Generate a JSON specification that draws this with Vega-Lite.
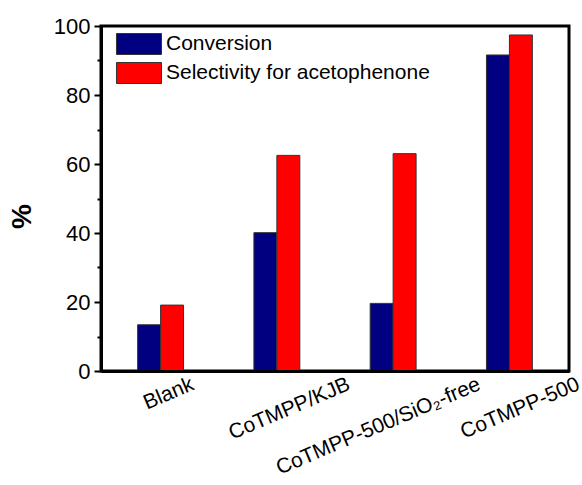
{
  "$schema": "https://vega.github.io/schema/vega-lite/v6.json",
  "width": 468,
  "height": 345,
  "autosize": {"type": "none"},
  "padding": {"left": 101, "top": 26, "right": 13, "bottom": 114},
  "background": "white",
  "config": {
    "view": {"stroke": "black", "strokeWidth": 3},
    "font": "Liberation Sans",
    "axis": {"labelFont": "Liberation Sans", "titleFont": "Liberation Sans", "labelColor": "black", "titleColor": "black"},
    "legend": {"labelFont": "Liberation Sans"}
  },
  "data": {
    "values": [
      {"sample": "Blank", "series": "Conversion", "value": 13.4},
      {"sample": "Blank", "series": "Selectivity for acetophenone", "value": 19.1},
      {"sample": "CoTMPP/KJB", "series": "Conversion", "value": 40.1},
      {"sample": "CoTMPP/KJB", "series": "Selectivity for acetophenone", "value": 62.5},
      {"sample": "CoTMPP-500/SiO₂-free", "series": "Conversion", "value": 19.6},
      {"sample": "CoTMPP-500/SiO₂-free", "series": "Selectivity for acetophenone", "value": 63.0},
      {"sample": "CoTMPP-500", "series": "Conversion", "value": 91.6},
      {"sample": "CoTMPP-500", "series": "Selectivity for acetophenone", "value": 97.4}
    ]
  },
  "layer": [
    {
      "mark": {"type": "bar", "stroke": "#333333", "strokeWidth": 1},
      "encoding": {
        "x": {
          "field": "sample",
          "type": "nominal",
          "sort": ["Blank", "CoTMPP/KJB", "CoTMPP-500/SiO₂-free", "CoTMPP-500"],
          "scale": {"paddingInner": 0.605, "paddingOuter": 0.315},
          "axis": {
            "title": null,
            "ticks": false,
            "domain": true,
            "domainColor": "black",
            "domainWidth": 3,
            "labelFontSize": 21,
            "labelAngle": -23,
            "labelAlign": "right",
            "labelBaseline": "top",
            "labelPadding": 2,
            "labelOverlap": false,
            "labelBound": false,
            "labelFlush": false,
            "labelLimit": 0,
            "labelOffset": {
              "condition": [
                {"test": "datum.value == 'Blank'", "value": 28},
                {"test": "datum.value == 'CoTMPP/KJB'", "value": 68},
                {"test": "datum.value == 'CoTMPP-500/SiO₂-free'", "value": 82}
              ],
              "value": 65
            },
            "zindex": 1
          }
        },
        "xOffset": {
          "field": "series",
          "type": "nominal",
          "sort": ["Conversion", "Selectivity for acetophenone"],
          "scale": {"paddingInner": 0, "paddingOuter": 0}
        },
        "y": {
          "field": "value",
          "type": "quantitative",
          "scale": {"domain": [0, 100], "nice": false},
          "axis": {
            "title": "%",
            "titleFontSize": 28,
            "titleFontWeight": "bold",
            "titleX": -79,
            "titleY": 190,
            "titleAlign": "center",
            "titleBaseline": "middle",
            "values": [0, 20, 40, 60, 80, 100],
            "grid": false,
            "domainColor": "black",
            "domainWidth": 3,
            "tickColor": "black",
            "tickWidth": 2,
            "tickSize": 7,
            "labelFontSize": 22,
            "labelPadding": 4,
            "zindex": 1
          }
        },
        "color": {
          "field": "series",
          "type": "nominal",
          "sort": ["Conversion", "Selectivity for acetophenone"],
          "scale": {"range": ["#000080", "#FF0000"]},
          "legend": {
            "title": null,
            "orient": "none",
            "legendX": 27,
            "legendY": 7,
            "symbolType": "M-2.143,-1H2.143V1H-2.143Z",
            "symbolSize": 441,
            "symbolStrokeColor": "#333333",
            "symbolStrokeWidth": 1,
            "labelFontSize": 21,
            "labelColor": "black",
            "labelOffset": 16,
            "rowPadding": 3,
            "labelLimit": 0
          }
        }
      }
    },
    {
      "mark": {"type": "rule", "opacity": 0},
      "encoding": {
        "y": {
          "field": "value",
          "type": "quantitative",
          "scale": {"domain": [0, 100], "nice": false},
          "axis": {
            "orient": "left",
            "title": null,
            "labels": false,
            "domain": false,
            "grid": false,
            "values": [10, 30, 50, 70, 90],
            "tickColor": "black",
            "tickWidth": 2,
            "tickSize": 4,
            "zindex": 1
          }
        }
      }
    }
  ],
  "resolve": {"axis": {"y": "independent"}}
}
